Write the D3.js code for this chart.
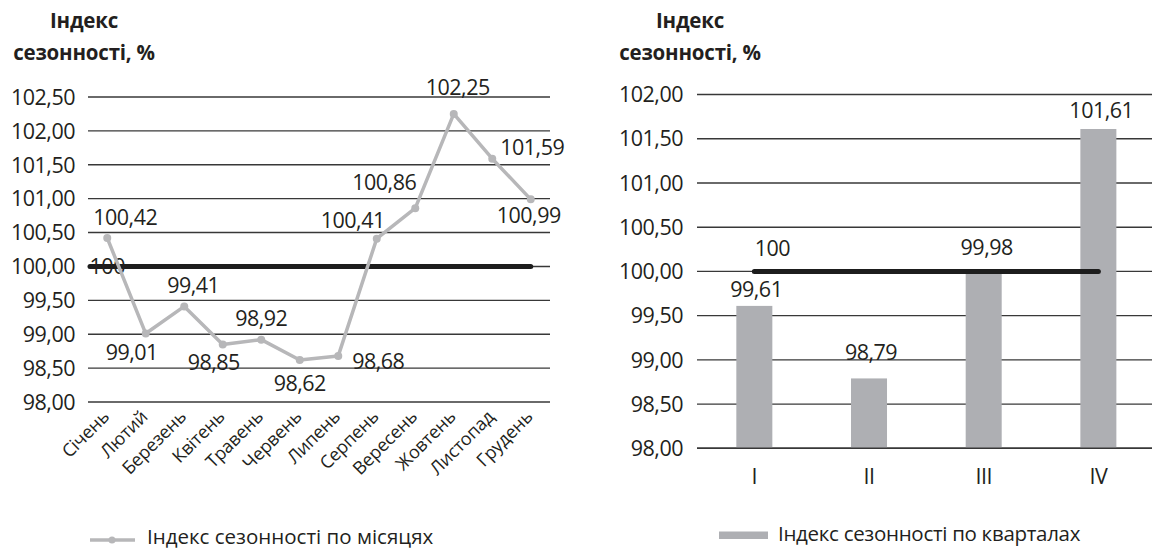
<!DOCTYPE html>
<html>
<head>
<meta charset="utf-8">
<script src="https://cdn.jsdelivr.net/npm/d3@7/dist/d3.min.js"></script>
<style>
  html, body { margin: 0; padding: 0; background: #fff; }
  svg { display: block; }
  text { font-family: "Open Sans", "Noto Sans", sans-serif; fill: #231f20; }
  .num { font-size: 21.5px; letter-spacing: -0.5px; }
</style>
</head>
<body>
<svg id="chart" width="1152" height="551"></svg>
<script>
// Monthly seasonality index (left chart)
const months = ["Січень", "Лютий", "Березень", "Квітень", "Травень", "Червень",
                "Липень", "Серпень", "Вересень", "Жовтень", "Листопад", "Грудень"];
const monthValues = [100.42, 99.01, 99.41, 98.85, 98.92, 98.62, 98.68, 100.41, 100.86, 102.25, 101.59, 100.99];
const monthTicks = [98.0, 98.5, 99.0, 99.5, 100.0, 100.5, 101.0, 101.5, 102.0, 102.5];

// Quarterly seasonality index (right chart)
const quarters = ["I", "II", "III", "IV"];
const quarterValues = [99.61, 98.79, 99.98, 101.61];
const quarterTicks = [98.0, 98.5, 99.0, 99.5, 100.0, 100.5, 101.0, 101.5, 102.0];

// Reference level of 100 %
const baseLevel = 100;

const titleLines = ["Індекс", "сезонності, %"];
const legendMonths = "Індекс сезонності по місяцях";
const legendQuarters = "Індекс сезонності по кварталах";

// Value-label placement (offset of label centre from the point)
const monthLabelShift = [[18, -21], [-14, 19], [9, -21], [-9, 18], [0, -21], [0, 23],
                         [40, 5], [-24, -18], [-31, -26], [4, -27], [40, -11], [-2, 16]];
const quarterLabelShift = [[2, -17], [2, -26], [3, -26], [3, -19]];

const fmt = v => d3.format(".2f")(v).replace(".", ",");
const fmtLabel = v => String(v).replace(".", ",");

const GRID = "#383838";
const LINE_GRAY = "#b7b7b9";
const BAR_GRAY = "#aeafb3";
const DARK = "#1d1d1d";

const svg = d3.select("#chart");

function drawTitle(g, cx) {
  const t = g.append("text")
    .attr("text-anchor", "middle")
    .attr("font-weight", "bold")
    .attr("font-size", 20.5)
    .attr("letter-spacing", -0.2);
  t.append("tspan").attr("x", cx).attr("y", 28).text(titleLines[0]);
  t.append("tspan").attr("x", cx).attr("y", 60).text(titleLines[1]);
}

function drawGrid(g, y, ticks, x0, x1, labelX) {
  g.append("g").selectAll("line").data(ticks).join("line")
    .attr("x1", x0).attr("x2", x1)
    .attr("y1", d => y(d)).attr("y2", d => y(d))
    .attr("stroke", GRID).attr("stroke-width", 1.4);
  g.append("g").selectAll("text").data(ticks).join("text")
    .attr("class", "num")
    .attr("x", labelX).attr("y", d => y(d))
    .attr("dy", "0.36em")
    .attr("text-anchor", "end")
    .text(fmt);
}

// ---------- Left: line chart by month ----------
{
  const g = svg.append("g");
  const x = d3.scaleBand().domain(months).range([88, 550]).padding(0);
  const y = d3.scaleLinear().domain([98, 102.5]).range([402, 97]);
  const cx = d => x(d) + x.bandwidth() / 2;

  drawTitle(g, 84);
  drawGrid(g, y, monthTicks, 88, 550, 75);

  // 100 % reference line
  g.append("line")
    .attr("x1", 90).attr("x2", cx(months[months.length - 1]))
    .attr("y1", y(baseLevel)).attr("y2", y(baseLevel))
    .attr("stroke", DARK).attr("stroke-width", 5).attr("stroke-linecap", "round");
  g.append("text")
    .attr("class", "num")
    .attr("x", cx(months[0])).attr("y", y(baseLevel))
    .attr("dy", "0.36em").attr("text-anchor", "middle")
    .text(fmtLabel(baseLevel));

  // Monthly index line with markers
  const line = d3.line().x((d, i) => cx(months[i])).y(d => y(d));
  g.append("path").datum(monthValues)
    .attr("d", line)
    .attr("fill", "none").attr("stroke", LINE_GRAY)
    .attr("stroke-width", 3.5).attr("stroke-linejoin", "round");
  g.append("g").selectAll("circle").data(monthValues).join("circle")
    .attr("cx", (d, i) => cx(months[i])).attr("cy", d => y(d))
    .attr("r", 4).attr("fill", LINE_GRAY);

  // Value labels
  g.append("g").selectAll("text").data(monthValues).join("text")
    .attr("class", "num")
    .attr("x", (d, i) => cx(months[i]) + monthLabelShift[i][0])
    .attr("y", (d, i) => y(d) + monthLabelShift[i][1])
    .attr("dy", "0.36em").attr("text-anchor", "middle")
    .text(d => fmtLabel(d));

  // Rotated category labels
  g.append("g").selectAll("text").data(months).join("text")
    .attr("transform", d => `translate(${cx(d) + 3},${418}) rotate(-45)`)
    .attr("text-anchor", "end")
    .attr("font-size", 18)
    .attr("letter-spacing", -0.2)
    .text(d => d);

  // Legend
  const ly = 537;
  g.append("line").attr("x1", 90).attr("x2", 135).attr("y1", ly + 3).attr("y2", ly + 3)
    .attr("stroke", LINE_GRAY).attr("stroke-width", 3.5);
  g.append("circle").attr("cx", 112).attr("cy", ly + 3).attr("r", 3.5).attr("fill", LINE_GRAY);
  g.append("text").attr("x", 147).attr("y", ly).attr("dy", "0.35em")
    .attr("font-size", 20.5).text(legendMonths);
}

// ---------- Right: bar chart by quarter ----------
{
  const g = svg.append("g");
  const x = d3.scaleBand().domain(quarters).range([697, 1155.7])
    .paddingInner(0.686).paddingOuter(0.343);
  const y = d3.scaleLinear().domain([98, 102]).range([448.3, 94.5]);
  const cx = d => x(d) + x.bandwidth() / 2;

  drawTitle(g, 690);
  drawGrid(g, y, quarterTicks, 697, 1155.7, 683);

  g.append("g").selectAll("rect").data(quarterValues).join("rect")
    .attr("x", (d, i) => x(quarters[i]))
    .attr("width", x.bandwidth())
    .attr("y", d => y(d))
    .attr("height", d => y(98) - y(d))
    .attr("fill", BAR_GRAY);

  // redraw the base line on top of the bars
  g.append("line").attr("x1", 697).attr("x2", 1155.7)
    .attr("y1", y(98)).attr("y2", y(98))
    .attr("stroke", GRID).attr("stroke-width", 1.4);

  // 100 % reference line
  g.append("line")
    .attr("x1", cx(quarters[0])).attr("x2", cx(quarters[quarters.length - 1]))
    .attr("y1", y(baseLevel)).attr("y2", y(baseLevel))
    .attr("stroke", DARK).attr("stroke-width", 5).attr("stroke-linecap", "round");
  g.append("text")
    .attr("class", "num")
    .attr("x", cx(quarters[0]) + 18).attr("y", y(baseLevel) - 23)
    .attr("dy", "0.36em").attr("text-anchor", "middle")
    .text(fmtLabel(baseLevel));

  // Value labels
  g.append("g").selectAll("text").data(quarterValues).join("text")
    .attr("class", "num")
    .attr("x", (d, i) => cx(quarters[i]) + quarterLabelShift[i][0])
    .attr("y", (d, i) => y(d) + quarterLabelShift[i][1])
    .attr("dy", "0.36em").attr("text-anchor", "middle")
    .text(d => fmtLabel(d));

  // Category labels
  g.append("g").selectAll("text").data(quarters).join("text")
    .attr("class", "num")
    .attr("x", d => cx(d)).attr("y", 476)
    .attr("dy", "0.36em").attr("text-anchor", "middle")
    .text(d => d);

  // Legend
  g.append("rect").attr("x", 719).attr("y", 531.5).attr("width", 49).attr("height", 7.5)
    .attr("fill", BAR_GRAY);
  g.append("text").attr("x", 778).attr("y", 534).attr("dy", "0.35em")
    .attr("font-size", 20.5).attr("letter-spacing", -0.3).text(legendQuarters);
}
</script>
</body>
</html>
